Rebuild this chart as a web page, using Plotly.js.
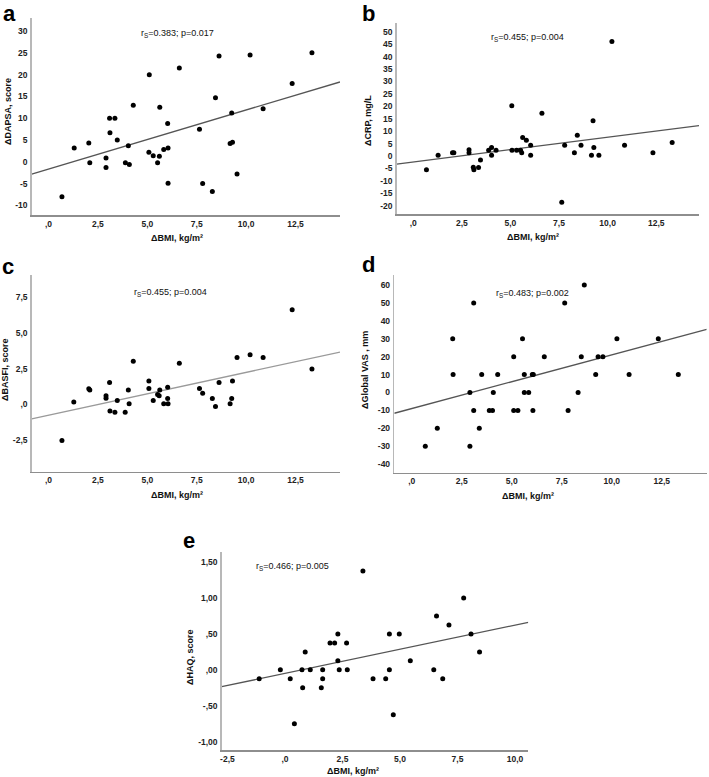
<!DOCTYPE html>
<html>
<head>
<meta charset="utf-8">
<script src="https://cdn.plot.ly/plotly-3.0.1.min.js"></script>
<style>html,body{margin:0;padding:0;background:#fff;}#chart{width:709px;height:777px;}</style>
</head>
<body>
<div id="chart"></div>
<script>
// ---------------- DATA ----------------
// Panel a: ΔBMI vs ΔDAPSA
const aX = [0.68,1.30,2.04,2.09,2.91,2.91,3.09,3.11,3.36,3.48,3.89,4.04,4.09,4.29,5.08,5.10,5.30,5.52,5.61,5.63,5.83,6.03,6.05,6.05,6.62,7.64,7.80,8.29,8.45,8.63,9.19,9.27,9.31,9.54,10.20,10.86,12.33,13.33];
const aY = [-8.0,3.2,4.3,-0.2,0.9,-1.3,10.0,6.7,10.0,5.0,-0.2,3.7,-0.6,13.0,2.2,20.0,1.4,-0.2,1.3,12.5,2.8,8.8,3.2,-4.9,21.5,7.5,-5.0,-6.8,14.7,24.3,4.2,11.2,4.5,-2.8,24.5,12.2,18.0,25.0];
// Panel b: ΔBMI vs ΔCRP
const bX = [0.68,1.28,2.02,2.09,2.87,2.87,3.09,3.12,3.36,3.46,3.88,4.03,4.03,4.26,5.07,5.08,5.32,5.52,5.58,5.63,5.82,6.04,6.04,6.62,7.64,7.79,8.29,8.44,8.63,9.17,9.25,9.29,9.55,10.22,10.87,12.33,13.32];
const bY = [-5.6,0.3,1.3,1.3,2.5,1.3,-4.6,-5.6,-4.7,-1.6,2.3,3.4,0.3,2.3,20.2,2.3,2.3,2.3,1.3,7.4,6.3,4.3,0.3,17.2,-18.7,4.3,1.3,8.3,4.3,0.3,14.2,3.4,0.3,46.1,4.3,1.3,5.4];
// Panel c: ΔBMI vs ΔBASFI
const cX = [0.68,1.28,2.04,2.09,2.91,2.91,3.09,3.11,3.36,3.48,3.88,4.04,4.08,4.29,5.08,5.08,5.30,5.52,5.60,5.63,5.83,6.03,6.03,6.05,6.62,7.64,7.80,8.29,8.45,8.63,9.19,9.27,9.31,9.54,10.20,10.86,12.33,13.33];
const cY = [-2.5,0.18,1.1,1.0,0.6,0.44,1.53,-0.45,-0.54,0.27,-0.54,1.0,0.06,3.0,1.64,1.11,0.27,0.69,0.6,1.0,0.06,1.2,0.41,0.06,2.87,1.11,0.78,0.41,-0.14,1.53,0.06,0.41,1.64,3.27,3.45,3.27,6.59,2.46];
// Panel d: ΔBMI vs ΔGlobal VAS
const dX = [0.68,1.28,2.05,2.07,2.91,2.91,3.10,3.10,3.38,3.50,3.88,4.04,4.08,4.30,5.10,5.10,5.31,5.54,5.63,5.63,5.85,6.03,6.06,6.08,6.63,7.65,7.82,8.32,8.48,8.63,9.20,9.32,9.56,10.26,10.87,12.33,13.33];
const dY = [-30,-20,30,10,0,-30,50,-10,-20,10,-10,-10,0,10,20,-10,-10,30,10,0,0,10,-10,10,20,50,-10,0,20,60,10,20,20,30,10,30,10];
// Panel e: ΔBMI vs ΔHAQ
const eX = [3.39,7.77,6.59,7.13,2.30,4.54,4.97,8.09,1.96,2.16,2.68,0.88,2.30,5.45,8.46,-1.12,-0.20,0.23,0.74,1.10,1.64,1.64,0.77,1.58,2.36,2.71,3.83,4.38,4.54,6.47,6.86,0.41,4.71];
const eY = [1.375,1.0,0.75,0.625,0.5,0.5,0.5,0.5,0.375,0.375,0.375,0.25,0.125,0.125,0.25,-0.125,0,-0.125,0,0,0,-0.125,-0.25,-0.25,0,0,-0.125,-0.125,0,0,-0.125,-0.75,-0.625];

// Fit lines: [intercept, slope]
const fitA = [-1.66, 1.355];
const fitB = [-2.45, 0.997];
const fitC = [-0.75, 0.298];
const fitD = [-8.99, 3.0];
const fitE = [-0.05, 0.0673];

const statA = "r<sub>S</sub>=0.383; p=0.017";
const statB = "r<sub>S</sub>=0.455; p=0.004";
const statC = "r<sub>S</sub>=0.455; p=0.004";
const statD = "r<sub>S</sub>=0.483; p=0.002";
const statE = "r<sub>S</sub>=0.466; p=0.005";

const yTitleA = "ΔDAPSA, score";
const yTitleB = "ΔCRP, mg/L";
const yTitleC = "ΔBASFI, score";
const yTitleD = "ΔGlobal VAS , mm";
const yTitleE = "ΔHAQ, score";
const xTitle = "ΔBMI, kg/m²";

const bmiTicks = [0,2.5,5,7.5,10,12.5];
const bmiTickText = [",0","2,5","5,0","7,5","10,0","12,5"];
const eXTicks = [-2.5,0,2.5,5,7.5,10];
const eXTickText = ["-2,5",",0","2,5","5,0","7,5","10,0"];
const aYTicks = [-10,-5,0,5,10,15,20,25,30];
const bYTicks = [-20,-15,-10,-5,0,5,10,15,20,25,30,35,40,45,50];
const cYTicks = [-2.5,0,2.5,5,7.5];
const cYTickText = ["-2,5",",0","2,5","5,0","7,5"];
const dYTicks = [-40,-30,-20,-10,0,10,20,30,40,50,60];
const eYTicks = [-1,-0.5,0,0.5,1,1.5];
const eYTickText = ["-1,00","-,50",",00",",50","1,00","1,50"];

// ---------------- LAYOUT ----------------
const W = 709, H = 777;
const px = v => v / W;
const py = v => 1 - v / H;
const FONT = "Liberation Sans, Arial, sans-serif";

const ranges = {
  a: {x: [-0.85, 14.75], y: [-12.2, 33.0]},
  b: {x: [-0.85, 14.7], y: [-23.4, 53.7]},
  c: {x: [-0.85, 14.75], y: [-4.67, 9.0]},
  d: {x: [-0.87, 14.75], y: [-44.8, 65.6]},
  e: {x: [-2.75, 10.58], y: [-1.116, 1.645]}
};

function xAxis(dom, range, tv, tt, anchor) {
  return {domain: [px(dom[0]), px(dom[1])], range: range, anchor: anchor,
    showline: true, linecolor: '#8e8e8e', linewidth: 1.5, showgrid: false, zeroline: false,
    ticks: '', tickvals: tv, ticktext: tt,
    tickfont: {family: FONT, size: 8.5, color: '#222', weight: 'bold'}, fixedrange: true};
}
function yAxis(dom, range, tv, tt, anchor) {
  return {domain: [py(dom[1]), py(dom[0])], range: range, anchor: anchor,
    showline: true, linecolor: '#b8b8b8', linewidth: 1.5, showgrid: false, zeroline: false,
    ticks: '', tickvals: tv, ticktext: tt, ticklabelstandoff: 1,
    tickfont: {family: FONT, size: 8.5, color: '#222', weight: 'bold'}, fixedrange: true};
}

const panels = [
  {x: aX, y: aY, fit: fitA, r: ranges.a, xa: 'x', ya: 'y', lc: '#555'},
  {x: bX, y: bY, fit: fitB, r: ranges.b, xa: 'x2', ya: 'y2', lc: '#555'},
  {x: cX, y: cY, fit: fitC, r: ranges.c, xa: 'x3', ya: 'y3', lc: '#9a9a9a'},
  {x: dX, y: dY, fit: fitD, r: ranges.d, xa: 'x4', ya: 'y4', lc: '#555'},
  {x: eX, y: eY, fit: fitE, r: ranges.e, xa: 'x5', ya: 'y5', lc: '#555'}
];

const traces = [];
panels.forEach(p => {
  const fx = p.r.x;
  traces.push({x: fx, y: fx.map(v => p.fit[0] + p.fit[1] * v), xaxis: p.xa, yaxis: p.ya,
    mode: 'lines', line: {color: p.lc, width: 1.3}, hoverinfo: 'skip'});
  traces.push({x: p.x, y: p.y, xaxis: p.xa, yaxis: p.ya, mode: 'markers',
    marker: {color: '#000', size: 5}, cliponaxis: false});
});

function ann(text, x, y, opts) {
  return Object.assign({text: text, xref: 'paper', yref: 'paper', x: px(x), y: py(y),
    xanchor: 'center', yanchor: 'middle', showarrow: false,
    font: {family: FONT, size: 9, color: '#111'}}, opts || {});
}
const bold9 = {family: FONT, size: 9, color: '#111', weight: 'bold'};
const letterFont = {family: FONT, size: 22, color: '#000', weight: 'bold'};

const annotations = [
  ann('a', 9, 0, {font: letterFont, yanchor: 'top', borderpad: 0}),
  ann('b', 368, 0, {font: letterFont, yanchor: 'top', borderpad: 0}),
  ann('c', 8, 266, {font: letterFont}),
  ann('d', 368, 264, {font: letterFont}),
  ann('e', 189, 540, {font: letterFont}),
  ann(statA, 177, 33),
  ann(statB, 527, 38),
  ann(statC, 170, 292.5),
  ann(statD, 532, 293),
  ann(statE, 292, 566),
  ann(xTitle, 177, 238, {font: bold9}),
  ann(xTitle, 533, 237, {font: bold9}),
  ann(xTitle, 177, 495, {font: bold9}),
  ann(xTitle, 528, 496, {font: bold9}),
  ann(xTitle, 353, 771, {font: bold9}),
  ann(yTitleA, 8, 112, {font: bold9, textangle: -90}),
  ann(yTitleB, 368, 121, {font: bold9, textangle: -90}),
  ann(yTitleC, 5, 370, {font: bold9, textangle: -90}),
  ann(yTitleD, 365, 370, {font: bold9, textangle: -90}),
  ann(yTitleE, 190, 657, {font: bold9, textangle: -90})
];

const layout = {
  width: W, height: H, margin: {l: 0, r: 0, t: 0, b: 0},
  paper_bgcolor: '#fff', plot_bgcolor: '#fff', showlegend: false,
  xaxis: xAxis([31.7, 340], ranges.a.x, bmiTicks, bmiTickText, 'y'),
  yaxis: yAxis([18, 215], ranges.a.y, aYTicks, aYTicks.map(String), 'x'),
  xaxis2: xAxis([396.7, 699], ranges.b.x, bmiTicks, bmiTickText, 'y2'),
  yaxis2: yAxis([22.7, 214], ranges.b.y, bYTicks, bYTicks.map(String), 'x2'),
  xaxis3: xAxis([31.7, 340], ranges.c.x, bmiTicks, bmiTickText, 'y3'),
  yaxis3: yAxis([275, 471.7], ranges.c.y, cYTicks, cYTickText, 'x3'),
  xaxis4: xAxis([394.3, 706.7], ranges.d.x, bmiTicks, bmiTickText, 'y4'),
  yaxis4: yAxis([275, 472.7], ranges.d.y, dYTicks, dYTicks.map(String), 'x4'),
  xaxis5: xAxis([221.7, 528.3], ranges.e.x, eXTicks, eXTickText, 'y5'),
  yaxis5: yAxis([551.7, 750], ranges.e.y, eYTicks, eYTickText, 'x5'),
  annotations: annotations
};

Plotly.newPlot('chart', traces, layout, {staticPlot: true, displayModeBar: false});
</script>
</body>
</html>
